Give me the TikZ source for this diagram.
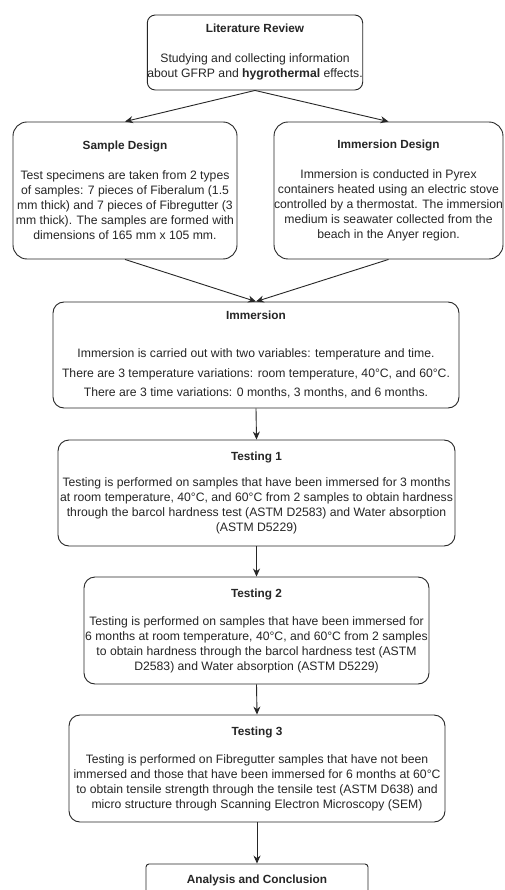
\documentclass[tikz,border=0pt]{standalone}
\usepackage{fontspec}
\setmainfont{Liberation Sans}
\usetikzlibrary{arrows.meta}
\definecolor{ink}{HTML}{262626}
\newcommand{\boxtitle}[1]{{\fontsize{11.8}{15}\selectfont\textbf{#1}}}
\tikzset{
  flowbox/.style={draw=ink, line width=0.9pt, text=ink, align=center, inner sep=0pt,
    font=\fontsize{12.2}{15}\selectfont},
  flowarrow/.style={draw=ink, line width=0.9pt, -{Stealth[length=8pt,width=7pt]}},
}
\begin{document}
\begin{tikzpicture}[x=1pt,y=-1pt]
\useasboundingbox (0,0) rectangle (504,890);
\clip (0,0) rectangle (504,890);
\fill[white] (0,0) rectangle (504,890);

\node[flowbox, rounded corners=8pt, minimum width=210pt, minimum height=75pt] (lit) at (255,52.5)
  {\boxtitle{Literature Review}\\[15pt]
   Studying and collecting information\\
   about GFRP and \textbf{hygrothermal} effects.};

\node[flowbox, rounded corners=14pt, minimum width=224pt, minimum height=137pt] (sample) at (125,190.5)
  {\boxtitle{Sample Design}\\[15pt]
   Test specimens are taken from 2 types\\
   of samples: 7 pieces of Fiberalum (1.5\\
   mm thick) and 7 pieces of Fibregutter (3\\
   mm thick). The samples are formed with\\
   dimensions of 165 mm x 105 mm.};

\node[flowbox, rounded corners=14pt, minimum width=227pt, minimum height=137pt] (idesign) at (388.5,190.5)
  {\boxtitle{Immersion Design}\\[15pt]
   Immersion is conducted in Pyrex\\
   containers heated using an electric stove\\
   controlled by a thermostat. The immersion\\
   medium is seawater collected from the\\
   beach in the Anyer region.};

\node[flowbox, rounded corners=11pt, minimum width=406pt, minimum height=106pt] (imm) at (256,355)
  {\boxtitle{Immersion}\\[23pt]
   Immersion is carried out with two variables: temperature and time.\\[5pt]
   There are 3 temperature variations: room temperature, 40°C, and 60°C.\\[4pt]
   There are 3 time variations: 0 months, 3 months, and 6 months.};

\node[flowbox, rounded corners=11pt, minimum width=397pt, minimum height=106pt] (t1) at (256.5,493)
  {\boxtitle{Testing 1}\\[11pt]
   Testing is performed on samples that have been immersed for 3 months\\
   at room temperature, 40°C, and 60°C from 2 samples to obtain hardness\\
   through the barcol hardness test (ASTM D2583) and Water absorption\\
   (ASTM D5229)};

\node[flowbox, rounded corners=11pt, minimum width=345pt, minimum height=107pt] (t2) at (256.5,630.5)
  {\boxtitle{Testing 2}\\[13pt]
   Testing is performed on samples that have been immersed for\\
   6 months at room temperature, 40°C, and 60°C from 2 samples\\
   to obtain hardness through the barcol hardness test (ASTM\\
   D2583) and Water absorption (ASTM D5229)};

\node[flowbox, rounded corners=11pt, minimum width=376pt, minimum height=107pt] (t3) at (257,768.5)
  {\boxtitle{Testing 3}\\[13pt]
   Testing is performed on Fibregutter samples that have not been\\
   immersed and those that have been immersed for 6 months at 60°C\\
   to obtain tensile strength through the tensile test (ASTM D638) and\\
   micro structure through Scanning Electron Microscopy (SEM)};

\node[flowbox, rounded corners=3pt, minimum width=222pt, minimum height=32pt] (ana) at (257,880)
  {\boxtitle{Analysis and Conclusion}};

\draw[flowarrow] (lit.south) -- (sample.north);
\draw[flowarrow] (lit.south) -- (idesign.north);
\draw[flowarrow] (sample.south) -- (imm.north);
\draw[flowarrow] (idesign.south) -- (imm.north);
\draw[flowarrow] (imm.south) -- (t1.north);
\draw[flowarrow] (t1.south) -- (t2.north);
\draw[flowarrow] (t2.south) -- (t3.north);
\draw[flowarrow] (t3.south) -- (ana.north);
\end{tikzpicture}
\end{document}
